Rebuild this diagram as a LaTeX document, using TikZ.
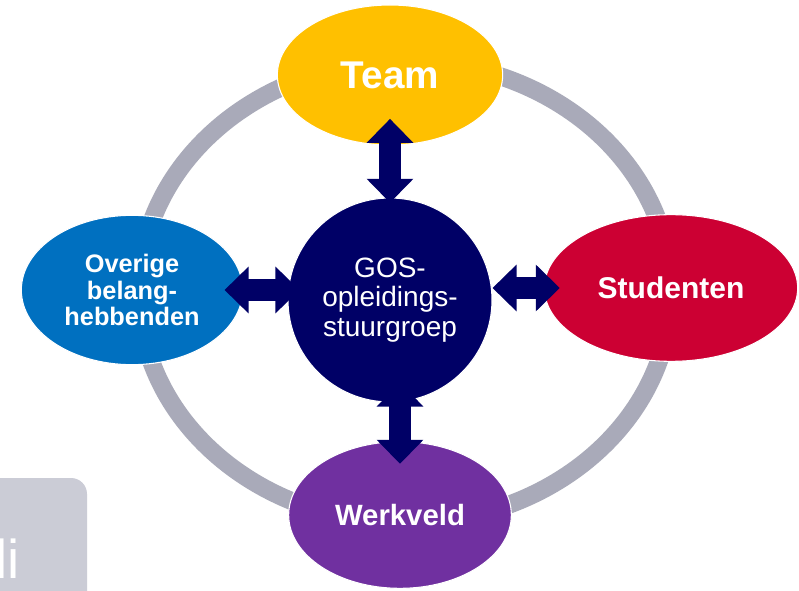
\documentclass[tikz,border=0pt]{standalone}
\usepackage{fontspec}
\setmainfont{Liberation Sans}
\usetikzlibrary{arrows.meta,shapes.geometric,positioning}
\definecolor{navy}{HTML}{000066}
\definecolor{gold}{HTML}{FFC000}
\definecolor{crimson}{HTML}{CC0033}
\definecolor{plum}{HTML}{7030A0}
\definecolor{ocean}{HTML}{0070C0}
\definecolor{ringgray}{HTML}{A9AAB9}
\definecolor{tabgray}{HTML}{CBCCD6}

\begin{document}
\begin{tikzpicture}[x=0.75pt,y=-0.75pt,
 el/.style={ellipse,draw=white,line width=0.8pt,inner sep=0pt,align=center,text=white},
 ar/.style={line width=16.5pt,color=navy,{Triangle[length=18pt,width=34pt]}-{Triangle[length=18pt,width=34pt]}}]
 \clip (0,0) rectangle (799,591);
 \fill[white] (0,0) rectangle (799,591);
 % tab bottom left
 \fill[tabgray,rounded corners=12pt] (-30,478) rectangle (87,640);
 \node[anchor=base west,inner sep=0pt,text=white,font=\fontsize{41}{41}\selectfont] (tab) at (-5,578) {li};
 % ring
 \draw[line width=13.5pt,ringgray] (405,292) ellipse [x radius=266,y radius=231];
 \node[circle,fill=navy,draw=white,line width=0.8pt,minimum size=153pt,inner sep=0pt,align=center,text=white,
  font=\fontsize{21}{22}\selectfont] (gos) at (390,300) {GOS-\\opleidings-\\stuurgroep};
 \node[el,fill=gold,minimum width=169pt,minimum height=105pt,font=\fontsize{29}{36}\selectfont\bfseries] (team) at (390,75) {Team};
 \node[el,fill=crimson,minimum width=190pt,minimum height=110pt,font=\fontsize{22.5}{26}\selectfont\bfseries] (stud) at (671,288) {Studenten};
 \node[el,fill=plum,minimum width=167pt,minimum height=110pt,font=\fontsize{22}{25}\selectfont\bfseries] (werk) at (400,515) {Werkveld};
 \node[el,fill=ocean,minimum width=166pt,minimum height=112pt,font=\fontsize{19}{20}\selectfont\bfseries] (overig) at (132,290) {Overige\\belang-\\hebbenden};
 % arrows
 \draw[ar,shorten <=-20pt,shorten >=-4pt] (team.south) -- (team.south |- gos.north);
 \draw[ar,shorten <=-15pt,shorten >=-17pt] (werk.north |- gos.south) -- (werk.north);
 \draw[ar,shorten <=-14pt,shorten >=-9pt] (overig.east) -- (overig.east -| gos.west);
 \draw[ar,shorten <=0pt,shorten >=-12pt] (stud.west -| gos.east) -- (stud.west);
\end{tikzpicture}
\end{document}
